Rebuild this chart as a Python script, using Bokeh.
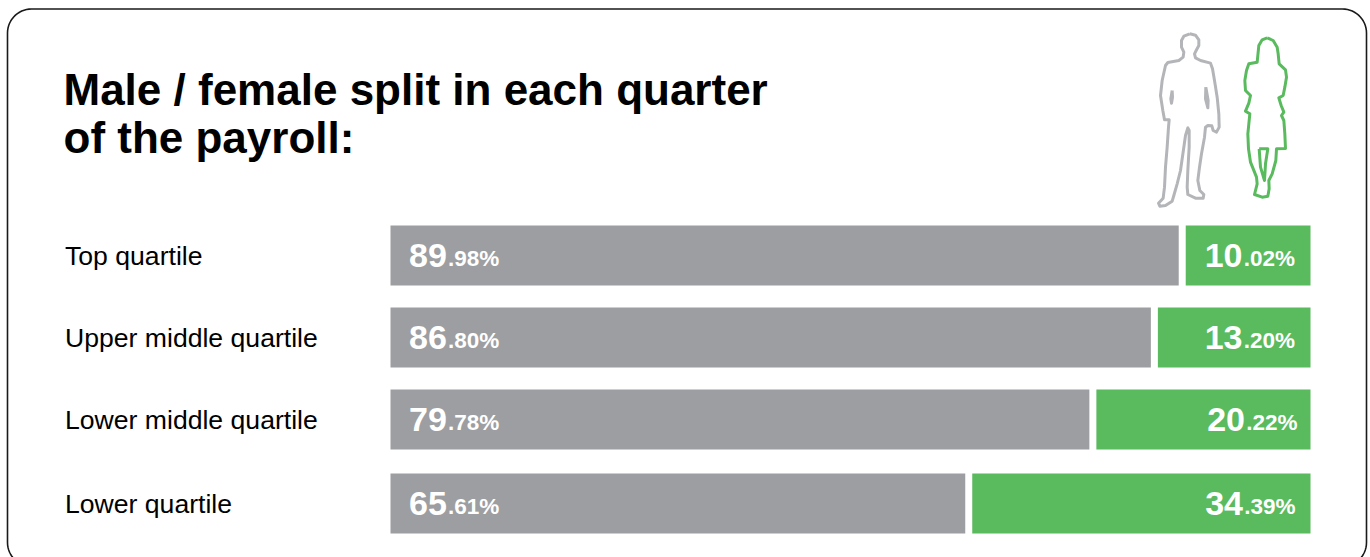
import numpy as np
from bokeh.plotting import figure
from bokeh.models import Range1d
from bokeh.core.properties import value
from bokeh.embed import file_html
from bokeh.resources import INLINE

# Chart data
title_lines = ["Male / female split in each quarter", "of the payroll:"]
quartiles = ["Top quartile", "Upper middle quartile", "Lower middle quartile", "Lower quartile"]
male_share = [89.98, 86.80, 79.78, 65.61]
female_share = [10.02, 13.20, 20.22, 34.39]

# Layout (pixels)
W, H = 1370, 557
BAR_LEFT, BAR_RIGHT = 390, 1310
PX_PER_PERCENT = 8.76
GAP_PX = 7
ROW_TOP = [225, 307, 389, 473]
ROW_H = 60
GREY, GREEN = "#9D9EA1", "#5ABA5E"
FONT = value("Liberation Sans")
BASELINE_SHIFT = 0.37  # text sits this fraction of its size below the given y

# Primary x axis is in percent, with zero at the left end of the bars
x_min = -BAR_LEFT / PX_PER_PERCENT
x_max = (W - BAR_LEFT) / PX_PER_PERCENT
track_end = (BAR_RIGHT - BAR_LEFT) / PX_PER_PERCENT
gap = GAP_PX / PX_PER_PERCENT

p = figure(width=W, height=H, output_backend="svg", toolbar_location=None,
           x_range=Range1d(x_min, x_max), y_range=Range1d(H, 0),
           min_border=0, outline_line_color=None, background_fill_color="white",
           border_fill_color="white")
p.extra_x_ranges["px"] = Range1d(0, W)
p.xaxis.visible = False
p.yaxis.visible = False
p.grid.visible = False

# Rounded card, running off the bottom of the page
def rounded_rect(left, right, top, bottom, r):
    t = np.linspace(0, np.pi / 2, 16)
    xs = np.concatenate([left + r - r * np.cos(t), right - r + r * np.sin(t),
                         right - r + r * np.cos(t), left + r - r * np.sin(t), [left]])
    ys = np.concatenate([top + r - r * np.sin(t), top + r - r * np.cos(t),
                         bottom - r + r * np.sin(t), bottom - r + r * np.cos(t), [top + r]])
    return xs, ys

card_x, card_y = rounded_rect(7, 1366, 8.5, 566, 24)
p.line(card_x, card_y, x_range_name="px", line_color="#1a1a1a", line_width=1.6)

# Stacked bars
tops = ROW_TOP
bottoms = [t + ROW_H for t in ROW_TOP]
p.quad(left=[0] * 4, right=male_share, top=tops, bottom=bottoms,
       fill_color=GREY, line_color=None)
p.quad(left=[m + gap for m in male_share], right=[track_end] * 4, top=tops, bottom=bottoms,
       fill_color=GREEN, line_color=None)

def label_y(baseline, size):
    return [b - BASELINE_SHIFT * size for b in baseline]

# Title and row names
p.text(x=[63, 63], y=label_y([105, 153], 44), text=title_lines, x_range_name="px",
       text_font=FONT, text_font_style="bold", text_font_size="44px",
       text_color="black", text_baseline="alphabetic")
p.text(x=[64.5] * 4, y=label_y([t + 40 for t in ROW_TOP], 26.6), text=quartiles, x_range_name="px",
       text_font=FONT, text_font_size="26.6px", text_color="black",
       text_baseline="alphabetic")

# Value labels: whole part large, decimals and percent sign small
def split(v):
    whole, frac = f"{v:.2f}".split(".")
    return whole, f".{frac}%"

big_base = [t + 43 for t in ROW_TOP]
small_base = [t + 41.5 for t in ROW_TOP]
big_style = dict(x_range_name="px", text_font=FONT, text_font_style="bold",
                 text_font_size="34px", text_color="white", text_baseline="alphabetic")
small_style = dict(x_range_name="px", text_font=FONT, text_font_style="bold",
                   text_font_size="22.5px", text_color="white", text_baseline="alphabetic")
p.text(x=[408.5] * 4, y=label_y(big_base, 34), text=[split(v)[0] for v in male_share], **big_style)
p.text(x=[447.5] * 4, y=label_y(small_base, 22.5), text=[split(v)[1] for v in male_share], **small_style)
right_edge = [1294.5, 1294.5, 1297, 1295]
p.text(x=[r - 52.5 for r in right_edge], y=label_y(big_base, 34), text=[split(v)[0] for v in female_share],
       text_align="right", **big_style)
p.text(x=right_edge, y=label_y(small_base, 22.5), text=[split(v)[1] for v in female_share],
       text_align="right", **small_style)

# Silhouette outlines, traced on a 3x grid and placed at the top right of the card
man = [(178,40),(195,44),(205,58),(205,75),(197,90),(192,100),(195,112),(210,120),(240,128),(246,145),
       (252,180),(260,230),(265,280),(266,320),(258,335),(248,330),(244,316),(232,315),(225,320),(222,350),
       (213,400),(207,440),(202,480),(208,510),(220,522),(218,533),(195,533),(172,522),(170,500),(172,450),
       (176,380),(176,330),(172,322),(165,345),(160,380),(150,450),(140,490),(130,525),(125,542),(105,555),
       (88,557),(84,548),(98,533),(102,500),(105,440),(110,380),(114,320),(116,298),(102,298),(97,270),
       (90,225),(95,180),(105,135),(112,126),(145,120),(158,110),(160,95),(153,80),(153,60),(160,47),(178,40)]
man_slits = [[(125,210),(121,235),(123,248),(126,230),(125,210)],
             [(226,200),(225,235),(232,262),(233,240),(226,200)]]
woman = [(410,52),(428,60),(440,80),(443,100),(446,130),(465,148),(468,170),(463,200),(458,225),(445,232),
         (452,255),(460,275),(453,285),(460,300),(463,340),(465,384),(438,385),(436,420),(425,460),(415,480),
         (416,505),(412,527),(395,530),(372,522),(380,490),(378,470),(360,425),(354,385),(352,340),(358,280),
         (345,272),(355,248),(360,225),(345,210),(343,180),(348,150),(355,130),(380,125),(383,95),(385,75),
         (395,58),(410,52)]
woman_gap = [(386,385),(412,385),(405,430),(402,480),(390,440),(386,385)]

def place(points):
    return [1130 + a / 3 for a, _ in points], [20 + b / 3 for _, b in points]

MAN_GREY = "#B4B5B8"
for outline, colour in [(man, MAN_GREY), (man_slits[0], MAN_GREY), (man_slits[1], MAN_GREY),
                        (woman, GREEN), (woman_gap, GREEN)]:
    xs, ys = place(outline)
    p.line(xs, ys, x_range_name="px", line_color=colour, line_width=3, line_join="round")

open("out.html", "w").write(file_html(p, INLINE))
